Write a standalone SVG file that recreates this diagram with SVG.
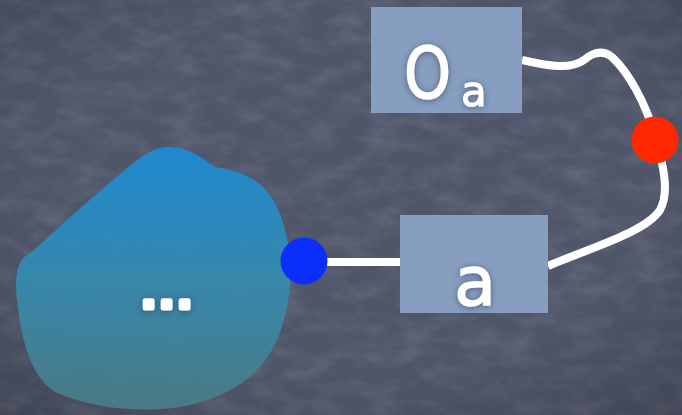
<svg xmlns="http://www.w3.org/2000/svg" width="682" height="415" viewBox="0 0 682 415">
  <defs>
    <style>
      .box { fill: #879ec0; }
      .wire { fill: none; stroke: #ffffff; stroke-width: 8; stroke-linecap: butt; }
      .label { fill: #ffffff; stroke: #ffffff; stroke-linejoin: round; filter: url(#glow); }
      .hand { font-family: "DejaVu Sans", sans-serif; }
      .dots { font-family: "Liberation Sans", sans-serif; font-weight: bold; }
    </style>
    <filter id="chalk" x="0" y="0" width="100%" height="100%">
      <feTurbulence type="fractalNoise" baseFrequency="0.03 0.06" numOctaves="4" seed="7" result="n"/>
      <feColorMatrix in="n" type="matrix" values="0 0 0 0 1  0 0 0 0 1  0 0 0 0 1  0.2 0 0 0 -0.08"/>
    </filter>
    <filter id="glow" x="-30%" y="-30%" width="160%" height="160%">
      <feDropShadow dx="0" dy="1" stdDeviation="3" flood-color="#2a3550" flood-opacity="0.6"/>
    </filter>
    <radialGradient id="vignette" cx="0.5" cy="0.45" r="0.75">
      <stop offset="0.6" stop-color="#000" stop-opacity="0"/>
      <stop offset="1" stop-color="#000" stop-opacity="0.2"/>
    </radialGradient>
    <linearGradient id="blobFill" x1="0" y1="147" x2="0" y2="412" gradientUnits="userSpaceOnUse">
      <stop offset="0" stop-color="#1c8bd3"/>
      <stop offset="0.5" stop-color="#358aae"/>
      <stop offset="1" stop-color="#4b7b86"/>
    </linearGradient>
  </defs>

  <!-- chalkboard background -->
  <rect width="682" height="415" fill="#50566a"/>
  <rect width="682" height="415" filter="url(#chalk)"/>
  <rect width="682" height="415" fill="url(#vignette)"/>

  <!-- connectors -->
  <g id="connectors">
    <line class="wire" x1="326" y1="262" x2="401" y2="262"/>
    <path class="wire" d="M522,60 C548,66 570,70 584,60 C592,53 602,49 612,57 C628,72 646,102 656,140 C663,164 670,192 660,210 C646,232 590,248 548,266"/>
  </g>

  <!-- blob containing the rest of the term -->
  <g id="blob">
    <path d="M167,147 C186,146 200,156 215,167 C238,171 262,177 276,205 C293,240 296,288 280,332 C266,370 238,394 190,405 C150,414 95,410 55,392 C32,377 22,345 17,300 C14,272 18,258 32,252 C62,224 100,190 130,166 C142,156 155,147 167,147 Z" fill="url(#blobFill)" opacity="0.95"/>
    <text class="label dots" x="169" y="307.5" font-size="48" stroke-width="5" text-anchor="middle" letter-spacing="4.6">...</text>
  </g>

  <!-- port on the blob -->
  <g id="port-blue">
    <circle cx="304" cy="261" r="23.5" fill="#0a2cff" opacity="0.97"/>
  </g>

  <!-- box a -->
  <g id="node-a">
    <rect class="box" x="400" y="215" width="148" height="98"/>
    <text class="label hand" x="475" y="305" font-size="68" stroke-width="1.5" text-anchor="middle">a</text>
  </g>

  <!-- box O_a -->
  <g id="node-Oa">
    <rect class="box" x="371" y="7" width="151" height="106"/>
    <text class="label hand" x="404" y="98" font-size="72" stroke-width="1.5" textLength="47" lengthAdjust="spacingAndGlyphs">O</text>
    <text class="label hand" x="461" y="106" font-size="42" stroke-width="1">a</text>
  </g>

  <!-- port between the two boxes -->
  <g id="port-red">
    <circle cx="655" cy="140" r="23.5" fill="#ff2800"/>
  </g>
</svg>
